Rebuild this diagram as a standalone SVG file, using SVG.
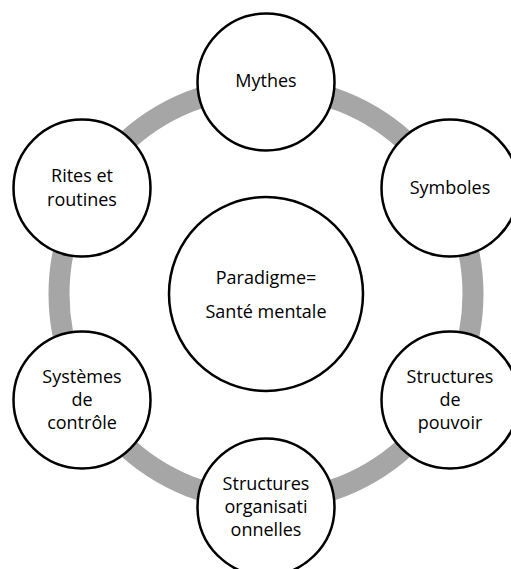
<svg xmlns="http://www.w3.org/2000/svg" width="511" height="569" viewBox="0 0 511 569">
<style>
.node circle{fill:#fff;stroke:#000;stroke-width:2.5}
text{font-family:"Open Sans","Liberation Sans",sans-serif;font-size:18px;fill:#000;text-anchor:middle}
.ring{fill:none;stroke:#a6a6a6;stroke-width:21}
</style>
<rect width="511" height="569" fill="#fff"/>
<g id="connectors">
<circle class="ring" cx="266" cy="294" r="207"/>
</g>
<g id="center" class="node">
<circle cx="266" cy="294" r="97"/>
<text x="266" y="284">Paradigme=</text>
<text x="266" y="318">Santé mentale</text>
</g>
<g id="mythes" class="node">
<circle cx="266" cy="82" r="68.5"/>
<text x="266" y="87">Mythes</text>
</g>
<g id="symboles" class="node">
<circle cx="450" cy="188" r="68.5"/>
<text x="450" y="194">Symboles</text>
</g>
<g id="pouvoir" class="node">
<circle cx="450" cy="400" r="68.5"/>
<text x="450" y="383">Structures</text>
<text x="450" y="406">de</text>
<text x="450" y="429">pouvoir</text>
</g>
<g id="organisationnelles" class="node">
<circle cx="266" cy="507" r="68.5"/>
<text x="266" y="490">Structures</text>
<text x="266" y="513">organisati</text>
<text x="266" y="536">onnelles</text>
</g>
<g id="controle" class="node">
<circle cx="82" cy="400" r="68.5"/>
<text x="82" y="383">Systèmes</text>
<text x="82" y="406">de</text>
<text x="82" y="429">contrôle</text>
</g>
<g id="rites" class="node">
<circle cx="82" cy="188" r="68.5"/>
<text x="82" y="182">Rites et</text>
<text x="82" y="206">routines</text>
</g>
</svg>
